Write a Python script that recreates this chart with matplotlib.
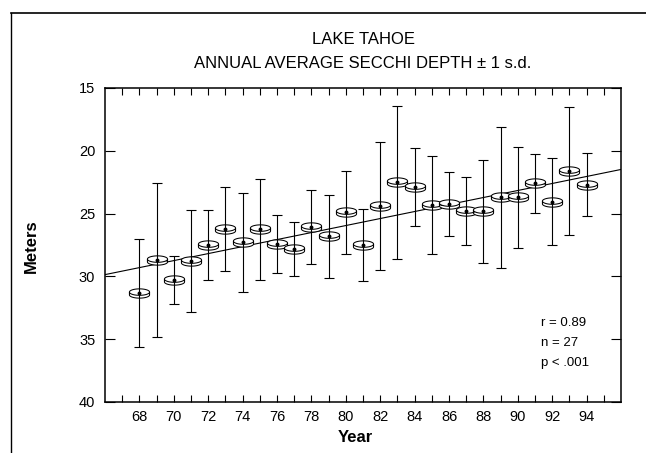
import numpy as np
import matplotlib
matplotlib.use("Agg")
import matplotlib.pyplot as plt
from matplotlib.path import Path

plt.rcParams['font.family'] = ['Liberation Sans', 'DejaVu Sans']

years = [68, 69, 70, 71, 72, 73, 74, 75, 76, 77, 78, 79, 80, 81,
         82, 83, 84, 85, 86, 87, 88, 89, 90, 91, 92, 93, 94]
depth = [31.3, 28.7, 30.3, 28.8, 27.5, 26.2, 27.3, 26.25, 27.45, 27.85, 26.05, 26.8, 24.9, 27.5,
         24.4, 22.5, 22.9, 24.3, 24.2, 24.8, 24.8, 23.7, 23.7, 22.6, 24.05, 21.6, 22.7]
sd = [4.3, 6.1, 1.9, 4.05, 2.8, 3.35, 3.95, 4.0, 2.3, 2.15, 2.95, 3.3, 3.3, 2.9,
      5.1, 6.1, 3.1, 3.9, 2.55, 2.7, 4.1, 5.6, 4.0, 2.35, 3.45, 5.1, 2.5]
ytick_vals = [15, 20, 25, 30, 35, 40]
xtick_labels = ['68', '70', '72', '74', '76', '78', '80', '82', '84', '86', '88', '90', '92', '94']
stats_text = ['r = 0.89', 'n = 27', 'p < .001']

x = np.array(years, dtype=float)
y = np.array(depth)
e = np.array(sd)

fig = plt.figure(figsize=(6.46, 4.53), dpi=100)
ax = fig.add_axes([105/646, 1 - 402/453, (621-105)/646, (402-88)/453])

# outer frame (top and left)
fig.add_artist(plt.Line2D([11/646, 11/646], [0, 1 - 12.5/453], transform=fig.transFigure, color='black', lw=1.0))
fig.add_artist(plt.Line2D([11/646, 1], [1 - 12.5/453, 1 - 12.5/453], transform=fig.transFigure, color='black', lw=1.2))

# Secchi disk marker
t = np.linspace(0, 2*np.pi, 60)
top = np.column_stack([np.cos(t), 0.14 + 0.32*np.sin(t)])
tb = np.linspace(np.pi, 2*np.pi, 30)
bot = np.column_stack([np.cos(tb), -0.14 + 0.32*np.sin(tb)])
verts = list(top) + list(bot) + [(-1, 0.14), (-1, -0.14), (1, 0.14), (1, -0.14)]
codes = ([Path.MOVETO] + [Path.LINETO]*(len(top)-1) +
         [Path.MOVETO] + [Path.LINETO]*(len(bot)-1) +
         [Path.MOVETO, Path.LINETO, Path.MOVETO, Path.LINETO])
disk = Path(verts, codes)

ax.errorbar(x, y, yerr=e, fmt='none', ecolor='black', elinewidth=0.8, capsize=3.5, capthick=0.8, zorder=3)

# regression line
coef = np.polyfit(x, y, 1)
xl = np.array([66, 96])
ax.plot(xl, np.polyval(coef, xl), color='black', lw=0.8, zorder=2)

ax.plot(x, y, linestyle='none', marker=disk, markersize=14.5, mfc='white', mec='black', mew=0.75, zorder=2.5)
ax.plot(x, y, linestyle='none', marker='o', markersize=1.8, color='black', zorder=4)

ax.set_xlim(66, 96)
ax.set_ylim(40, 15)
ax.set_xticks(np.arange(68, 95, 2))
ax.set_xticklabels(xtick_labels)
ax.set_xticks(np.arange(67, 96, 2), minor=True)
ax.set_yticks(ytick_vals)
ax.set_yticklabels([str(v) for v in ytick_vals])
ax.tick_params(axis='x', which='both', direction='in', top=True, bottom=True, length=5, width=0.8,
               labelsize=10.5, pad=6)
ax.tick_params(axis='y', which='both', direction='in', left=True, right=True, length=7, width=0.8,
               labelsize=10.5, pad=7)
for s in ax.spines.values():
    s.set_linewidth(1.1)

fig.text(363/646, 1 - 40/453, 'LAKE TAHOE', ha='center', va='center', fontsize=12)
fig.text(363/646, 1 - 63/453, 'ANNUAL AVERAGE SECCHI DEPTH \u00b1 1 s.d.', ha='center', va='center', fontsize=12)
fig.text(355/646, 1 - 438/453, 'Year', ha='center', va='center', fontsize=12, fontweight='bold')
fig.text(31/646, 1 - 246/453, 'Meters', ha='center', va='center', rotation=90, fontsize=12, fontweight='bold')

for i, s in enumerate(stats_text):
    fig.text(541/646, 1 - (323 + 20*i)/453, s, ha='left', va='center', fontsize=9.5)

fig.savefig('out.png', dpi=100)
